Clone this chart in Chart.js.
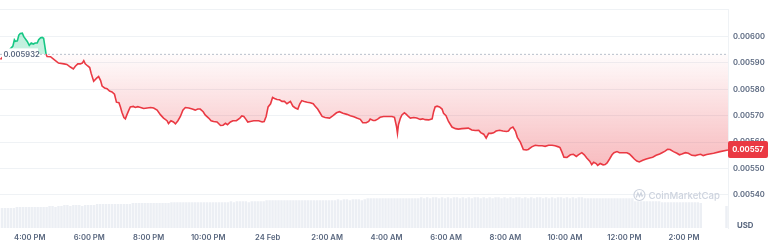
<!DOCTYPE html>
<html>
<head>
<meta charset="utf-8">
<script src="https://cdn.jsdelivr.net/npm/chart.js@4.4.1/dist/chart.umd.min.js"></script>
<style>
  html, body { margin: 0; padding: 0; background: #ffffff; }
  #wrap { width: 772px; height: 246px; position: relative; }
</style>
</head>
<body>
<div id="wrap"><canvas id="c"></canvas></div>
<script>
// ---- DATA (times in minutes since 23 Feb 15:00) ----
const baselinePrice = 0.005932;
const times = [1,26,29,31,35,38,41,45,48,55,59,63,67,71,75,78,82,85,88,90,93,95,102,108,118,129,135,142,148,152,157,162,166,169,172,177,181,184,189,195,199,203,206,211,216,221,226,231,235,240,243,246,250,253,256,260,263,269,273,278,282,287,290,297,304,310,317,324,330,337,340,345,350,354,359,364,369,374,381,388,394,399,404,410,414,421,426,431,438,445,450,455,459,465,470,477,484,488,492,496,500,505,512,522,529,533,537,541,546,550,554,559,564,569,574,579,586,591,596,601,605,609,614,620,626,632,636,641,645,650,656,665,672,679,685,692,700,707,714,720,727,732,739,744,747,753,757,762,767,774,781,791,796,800,802,804,808,811,816,820,824,828,835,841,848,853,858,865,872,875,878,882,887,892,895,900,905,912,919,925,932,939,945,952,959,966,970,976,981,986,991,996,1001,1008,1015,1022,1026,1030,1035,1040,1044,1050,1056,1062,1066,1073,1080,1087,1094,1100,1107,1114,1120,1127,1130,1134,1138,1144,1151,1157,1163,1167,1174,1179,1184,1190,1194,1198,1203,1206,1211,1217,1221,1225,1230,1235,1239,1245,1250,1257,1265,1270,1275,1280,1285,1290,1297,1304,1311,1317,1324,1331,1336,1342,1347,1352,1359,1366,1371,1376,1383,1389,1396,1403,1409,1414,1419,1426,1440,1453,1469];
const prices = [0.005913,0.005963,0.005987,0.005981,0.005983,0.006005,0.006011,0.006012,0.005999,0.005981,0.005966,0.005975,0.005971,0.005975,0.005975,0.005987,0.005995,0.005996,0.005993,0.005969,0.005932,0.005924,0.005923,0.005914,0.005899,0.005896,0.005894,0.005884,0.005877,0.005887,0.005896,0.005896,0.005899,0.005908,0.005896,0.005888,0.005882,0.005860,0.005830,0.005842,0.005848,0.005833,0.005812,0.005805,0.005802,0.005793,0.005790,0.005781,0.005751,0.005749,0.005733,0.005713,0.005693,0.005688,0.005703,0.005721,0.005733,0.005735,0.005731,0.005734,0.005732,0.005729,0.005727,0.005729,0.005731,0.005729,0.005721,0.005703,0.005691,0.005681,0.005670,0.005681,0.005676,0.005669,0.005681,0.005697,0.005721,0.005731,0.005729,0.005725,0.005721,0.005725,0.005725,0.005715,0.005703,0.005691,0.005681,0.005678,0.005676,0.005663,0.005664,0.005671,0.005666,0.005676,0.005681,0.005681,0.005691,0.005699,0.005697,0.005687,0.005676,0.005678,0.005681,0.005681,0.005676,0.005678,0.005697,0.005733,0.005745,0.005769,0.005765,0.005761,0.005760,0.005754,0.005754,0.005745,0.005754,0.005736,0.005729,0.005725,0.005745,0.005757,0.005754,0.005751,0.005749,0.005745,0.005736,0.005725,0.005713,0.005697,0.005693,0.005691,0.005700,0.005711,0.005715,0.005709,0.005705,0.005700,0.005696,0.005691,0.005686,0.005673,0.005673,0.005678,0.005687,0.005682,0.005682,0.005687,0.005694,0.005697,0.005697,0.005697,0.005694,0.005660,0.005633,0.005666,0.005691,0.005703,0.005711,0.005705,0.005697,0.005691,0.005693,0.005691,0.005686,0.005688,0.005685,0.005684,0.005688,0.005715,0.005733,0.005736,0.005733,0.005725,0.005709,0.005700,0.005678,0.005657,0.005651,0.005649,0.005651,0.005652,0.005653,0.005646,0.005644,0.005645,0.005636,0.005630,0.005615,0.005633,0.005633,0.005635,0.005642,0.005645,0.005642,0.005640,0.005642,0.005652,0.005657,0.005642,0.005618,0.005600,0.005572,0.005570,0.005572,0.005582,0.005588,0.005586,0.005586,0.005584,0.005588,0.005588,0.005586,0.005582,0.005579,0.005562,0.005543,0.005542,0.005552,0.005554,0.005546,0.005552,0.005560,0.005552,0.005540,0.005528,0.005515,0.005524,0.005519,0.005512,0.005519,0.005514,0.005515,0.005521,0.005536,0.005552,0.005560,0.005564,0.005560,0.005560,0.005560,0.005555,0.005546,0.005536,0.005528,0.005525,0.005531,0.005536,0.005540,0.005543,0.005550,0.005555,0.005560,0.005566,0.005573,0.005572,0.005564,0.005558,0.005552,0.005555,0.005560,0.005558,0.005550,0.005549,0.005552,0.005554,0.005549,0.005553,0.005558,0.005564,0.005570];
// volume bars (relative units), one bar every 6 minutes starting at minute 4
const volumeStart = 4, volumeStep = 6;
const volumes = [21,21,21,21,21,22,22,22,22,22,22,22,22,22,22,22,23,23,22,23,23,24,24,23,24,24,24,23,24,24,24,24,25,25,25,25,25,25,25,25,25,25,25,25,26,26,26,26,26,26,26,26,26,26,26,26,26,27,27,27,27,27,27,27,27,27,27,27,27,27,27,27,27,27,27,27,27,28,27,28,28,28,28,27,28,28,28,28,28,29,29,29,29,29,29,29,29,29,29,29,29,29,29,29,29,29,29,29,29,29,29,29,29,30,29,30,30,29,30,30,30,29,30,31,31,31,31,31,31,31,31,31,31,31,31,31,31,31,31,31,31,32,31,32,31,32,32,31,32,31,32,31,32,32,31,32,31,32,31,32,32,31,32,31,32,31,32,32,31,32,31,32,31,32,32,31,32,31,32,31,32,32,31,32,31,32,31,32,32,31,32,31,32,31,32,32,31,31,31,31,31,31,31,31,31,31,31,31,31,31,31,31,31,28,28,28,28,28,28,28,28,28,27,27,27,27,27,27,27,27,27,27,27,27,27,26];
const lastVolumeTime = 1466, lastVolume = 23;
const xTickValues = [60,180,300,420,540,660,780,900,1020,1140,1260,1380];
const xTickLabels = ['4:00 PM','6:00 PM','8:00 PM','10:00 PM','24 Feb','2:00 AM','4:00 AM','6:00 AM','8:00 AM','10:00 AM','12:00 PM','2:00 PM'];
const yTickValues = [0.0054,0.0055,0.0056,0.0057,0.0058,0.0059,0.0060];

// ---- STYLE ----
const RED = '#ea3943', GREEN = '#16c784', GRID = '#eff2f5', TXT = '#58667e';
const X_MIN = 0, X_MAX = 1469, Y_MIN = 0.005275, Y_MAX = 0.0061015;
const FONT = 'Inter, "Noto Sans", sans-serif';
Chart.defaults.font.family = FONT;

function frac(chart, v) {
  const a = chart.chartArea, y = chart.scales.y;
  return Math.min(1, Math.max(0, (y.getPixelForValue(v) - a.top) / (a.bottom - a.top)));
}
function lineColor(c) {
  const chart = c.chart, a = chart.chartArea;
  if (!a) return RED;
  const t = frac(chart, baselinePrice);
  const g = chart.ctx.createLinearGradient(0, a.top, 0, a.bottom);
  g.addColorStop(0, GREEN); g.addColorStop(t, GREEN);
  g.addColorStop(t, RED); g.addColorStop(1, RED);
  return g;
}
function fillColor(c) {
  const chart = c.chart, a = chart.chartArea;
  if (!a) return 'rgba(234,57,67,0.1)';
  const t = frac(chart, baselinePrice);
  const g = chart.ctx.createLinearGradient(0, a.top, 0, a.bottom);
  g.addColorStop(0, 'rgba(22,199,132,0.32)');
  g.addColorStop(t, 'rgba(22,199,132,0.24)');
  g.addColorStop(t, 'rgba(234,57,67,0.02)');
  g.addColorStop(frac(chart, 0.0056), 'rgba(234,57,67,0.28)');
  g.addColorStop(frac(chart, 0.0055), 'rgba(234,57,67,0.34)');
  g.addColorStop(1, 'rgba(234,57,67,0.34)');
  return g;
}

const priceData = times.map((t, i) => ({ x: t, y: prices[i] }));
const volData = volumes.map((v, i) => ({ x: volumeStart + i * volumeStep, y: v }));
volData.push({ x: lastVolumeTime, y: lastVolume });

const overlay = {
  id: 'overlay',
  afterDraw(chart) {
    const { ctx, chartArea: a, scales: { y } } = chart;
    ctx.save();
    // watermark
    ctx.font = '500 9.6px ' + FONT;
    ctx.fillStyle = '#cdd3de';
    ctx.textAlign = 'right';
    ctx.textBaseline = 'middle';
    const wx = a.right - 8, wy = 196;
    ctx.fillText('CoinMarketCap', wx, wy);
    const tw = ctx.measureText('CoinMarketCap').width;
    const cx = wx - tw - 9, cy = 195;
    ctx.strokeStyle = '#cdd3de'; ctx.lineWidth = 1.2;
    ctx.beginPath(); ctx.arc(cx, cy, 5.5, 0, Math.PI * 2); ctx.stroke();
    ctx.beginPath();
    ctx.moveTo(cx - 3.2, cy + 2.5); ctx.lineTo(cx - 1.6, cy - 2.2); ctx.lineTo(cx, cy + 1.4);
    ctx.lineTo(cx + 1.6, cy - 2.2); ctx.lineTo(cx + 2.6, cy + 1.2); ctx.lineTo(cx + 3.6, cy + 0.4);
    ctx.stroke();
    // baseline label
    const yb = y.getPixelForValue(baselinePrice);
    ctx.fillStyle = '#ffffff';
    ctx.fillRect(a.left + 2, yb - 6, 36, 12);
    ctx.font = '600 7.6px ' + FONT;
    ctx.fillStyle = TXT;
    ctx.textAlign = 'left';
    ctx.fillText(baselinePrice.toFixed(6), a.left + 3.5, yb + 0.5);
    // last price label
    const last = prices[prices.length - 1];
    const yl = y.getPixelForValue(last);
    ctx.fillStyle = RED;
    ctx.beginPath();
    if (ctx.roundRect) ctx.roundRect(a.right, yl - 9, 40, 17, 2); else ctx.rect(a.right, yl - 9, 40, 17);
    ctx.fill();
    ctx.fillStyle = '#ffffff';
    ctx.font = '700 7.6px ' + FONT;
    ctx.textAlign = 'center';
    ctx.fillText(last.toFixed(5), a.right + 20, yl);
    // currency label
    ctx.fillStyle = TXT;
    ctx.font = '700 7.8px ' + FONT;
    ctx.textAlign = 'left';
    ctx.fillText('USD', a.right + 9, 226);
    ctx.restore();
  }
};

new Chart(document.getElementById('c'), {
  type: 'line',
  data: {
    datasets: [
      {
        type: 'line', label: 'baseline', order: 0,
        data: [{ x: X_MIN, y: baselinePrice }, { x: X_MAX, y: baselinePrice }],
        borderColor: '#b9c0cb', borderWidth: 1, borderDash: [2, 2],
        pointRadius: 0, fill: false, yAxisID: 'y'
      },
      {
        type: 'line', label: 'Price', order: 1,
        data: priceData,
        borderColor: lineColor, backgroundColor: fillColor,
        borderWidth: 1.6, pointRadius: 0, tension: 0,
        fill: { value: baselinePrice }, yAxisID: 'y'
      },
      {
        type: 'bar', label: 'Volume', order: 3,
        data: volData, yAxisID: 'yv',
        backgroundColor: '#eceff4', borderWidth: 0,
        barPercentage: 1, categoryPercentage: 0.82
      }
    ]
  },
  options: {
    responsive: true, maintainAspectRatio: false, animation: false,
    layout: { padding: 0 },
    plugins: { legend: { display: false }, tooltip: { enabled: false } },
    scales: {
      x: {
        type: 'linear', min: X_MIN, max: X_MAX, offset: false,
        afterBuildTicks: s => { s.ticks = xTickValues.map(v => ({ value: v })); },
        afterFit: s => { s.height = 18; },
        grid: { display: false, drawTicks: false, offset: false }, border: { display: false },
        ticks: {
          autoSkip: false, maxRotation: 0, padding: 5, color: TXT,
          font: { size: 7.6, weight: '600' },
          callback: v => { const i = xTickValues.indexOf(v); return i >= 0 ? xTickLabels[i] : ''; }
        }
      },
      y: {
        type: 'linear', position: 'right', min: Y_MIN, max: Y_MAX,
        afterBuildTicks: s => { s.ticks = yTickValues.concat([Y_MAX]).map(v => ({ value: v })); },
        afterFit: s => { s.width = 44; },
        grid: { color: GRID, drawTicks: false, lineWidth: 1 },
        border: { display: true, color: GRID },
        ticks: {
          padding: 5, color: TXT, font: { size: 7.6, weight: '600' },
          callback: (v, i) => (i < yTickValues.length ? yTickValues[i].toFixed(5) : '')
        }
      },
      yv: { type: 'linear', display: false, min: 0, max: 228 }
    }
  },
  plugins: [overlay]
});
</script>
</body>
</html>
